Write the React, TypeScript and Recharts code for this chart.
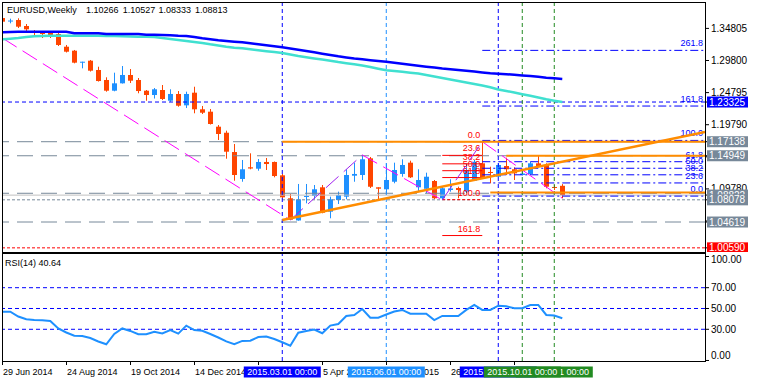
import React from 'react';
import { ComposedChart, Bar, Line, XAxis, YAxis, ReferenceLine } from 'recharts';

const FONT = '"Liberation Sans", Arial, sans-serif';
const BULL = '#1E90FF';
const BEAR = '#FF4500';
const ORANGE = '#FF8C00';
const GRAY = '#778899';
const BLUE = '#0000FF';
const GREEN = '#228B22';

// weekly candles, 29 Jun 2014 ...
const opens = [1.3642,1.3597,1.3611,1.3518,1.3440,1.3424,1.3409,1.3393,1.3195,1.3133,1.2952,1.2977,1.2832,1.2676,1.2509,1.2624,1.2754,1.2676,1.2509,1.2442,1.2520,1.2353,1.2458,1.2281,1.2478,1.2219,1.2182,1.1948,1.1854,1.1553,1.1133,1.1315,1.1293,1.1398,1.1398,1.1190,1.0832,1.0486,1.0860,1.0868,1.1003,1.0623,1.0805,1.0857,1.1184,1.1195,1.1455,1.1003,1.0972,1.1090,1.1211,1.1387,1.1003,1.0980,1.1101,1.0832,1.0961,1.0992,1.0935,1.1106,1.1377,1.1242,1.1168,1.1335,1.1284,1.1195,1.1211,1.1377,1.1351,1.1008,1.10266];
const highs = [1.3658,1.3632,1.3638,1.3549,1.3455,1.3440,1.3424,1.3409,1.3222,1.3144,1.2961,1.2988,1.2883,1.2718,1.2790,1.2894,1.2847,1.2707,1.2520,1.2551,1.2598,1.2531,1.2504,1.2494,1.2571,1.2271,1.2224,1.1974,1.1886,1.1678,1.1429,1.1533,1.1444,1.1460,1.1405,1.1211,1.0899,1.1055,1.1055,1.1039,1.1039,1.0857,1.0935,1.1284,1.1387,1.1507,1.1476,1.1003,1.1377,1.1387,1.1440,1.1418,1.1284,1.1231,1.1117,1.1023,1.1128,1.1013,1.1377,1.1429,1.1714,1.1324,1.1377,1.1465,1.1315,1.1273,1.1402,1.1491,1.1377,1.1039,1.10527];
const lows = [1.3564,1.3560,1.3487,1.3409,1.3366,1.3331,1.3331,1.3206,1.3105,1.2936,1.2858,1.2808,1.2652,1.2494,1.2500,1.2621,1.2629,1.2469,1.2353,1.2387,1.2364,1.2338,1.2260,1.2239,1.2157,1.2146,1.1982,1.1741,1.1449,1.1106,1.1090,1.1284,1.1262,1.1273,1.1159,1.0829,1.0494,1.0483,1.0754,1.0816,1.0598,1.0520,1.0743,1.0816,1.1090,1.1117,1.0992,1.0805,1.0910,1.1066,1.1168,1.1148,1.0935,1.0910,1.0821,1.0805,1.0935,1.0832,1.0910,1.1101,1.1133,1.1066,1.1164,1.1195,1.1117,1.1187,1.1195,1.1327,1.0988,1.0961,1.08333];
const closes = [1.3585,1.3603,1.3507,1.3466,1.3409,1.3393,1.3377,1.3222,1.3117,1.2946,1.2961,1.2821,1.2660,1.2509,1.2624,1.2754,1.2665,1.2504,1.2442,1.2531,1.2380,1.2458,1.2275,1.2458,1.2219,1.2166,1.1990,1.1834,1.1558,1.1195,1.1284,1.1296,1.1398,1.1366,1.1179,1.0847,1.0498,1.0816,1.0868,1.0972,1.0607,1.0816,1.0883,1.1195,1.1211,1.1440,1.1012,1.0981,1.1117,1.1273,1.1351,1.1159,1.1117,1.1168,1.0832,1.0988,1.0985,1.0961,1.1273,1.1402,1.1143,1.1226,1.1351,1.1284,1.1221,1.1218,1.1377,1.1335,1.1012,1.0992,1.08813];
const maSlow = [1.3420,1.3424,1.3429,1.3429,1.3429,1.3429,1.3429,1.3429,1.3429,1.3404,1.3404,1.3404,1.3404,1.3393,1.3393,1.3393,1.3393,1.3393,1.3382,1.3382,1.3377,1.3373,1.3366,1.3362,1.3346,1.3326,1.3310,1.3295,1.3284,1.3273,1.3264,1.3248,1.3232,1.3217,1.3201,1.3186,1.3167,1.3148,1.3128,1.3108,1.3086,1.3066,1.3045,1.3027,1.3011,1.2999,1.2985,1.2972,1.2961,1.2946,1.2930,1.2914,1.2899,1.2883,1.2869,1.2855,1.2844,1.2832,1.2819,1.2807,1.2794,1.2782,1.2774,1.2766,1.2757,1.2748,1.2738,1.2726,1.2712,1.2702,1.2692];
const maFast = [1.3310,1.3320,1.3331,1.3346,1.3357,1.3362,1.3366,1.3366,1.3366,1.3366,1.3366,1.3366,1.3366,1.3362,1.3362,1.3357,1.3354,1.3351,1.3351,1.3346,1.3331,1.3315,1.3299,1.3284,1.3268,1.3253,1.3232,1.3214,1.3195,1.3179,1.3170,1.3154,1.3139,1.3125,1.3112,1.3097,1.3073,1.3050,1.3030,1.3011,1.2994,1.2977,1.2956,1.2938,1.2921,1.2902,1.2879,1.2852,1.2827,1.2816,1.2804,1.2790,1.2776,1.2754,1.2730,1.2707,1.2684,1.2660,1.2637,1.2614,1.2590,1.2562,1.2528,1.2504,1.2481,1.2455,1.2430,1.2403,1.2375,1.2353,1.2333];
const rsiValues = [46.9,46.9,42.3,39.6,38.9,38.7,38.0,30.8,26.9,23.8,23.6,21.6,18.3,15.6,25.5,30.8,28.4,25.2,25.2,27.7,26.0,29.3,25.8,33.5,29.3,28.6,25.5,22.1,18.3,15.6,18.8,19.0,22.6,23.1,20.7,17.5,14.2,26.7,28.4,29.8,26.2,33.5,35.1,42.8,43.8,49.5,41.2,41.2,44.2,47.1,48.6,45.0,45.0,45.0,38.9,42.8,42.8,42.8,48.6,53.4,48.6,48.6,52.7,52.1,50.2,50.2,53.4,53.4,43.8,43.3,40.64];

// zigzag swing points
const zigzagBars = [0, 36, 45, 55, 60, 70];
const zigzagPrices = [1.3331, 1.0494, 1.1507, 1.0805, 1.1714, 1.0833];

// horizontal lines
const grayLongLevels = [1.17138, 1.14949, 1.0910, 1.04619];
const grayShortLevel = 1.08078;
const bidLevel = 1.08813;
const redLevel = 1.0059;
const blueLevel = 1.23325;

// orange objects
const orangeStarts = [35, 63, 61];
const orangeLevels = [1.17138, 1.14949, 1.0922];
const trendBars = [35, 87.84];
const trendPrices = [1.0494, 1.1865];

// fibo retracement (red)
const fiboRetNames = ['0.0', '23.6', '38.2', '50.0', '61.8', '100.0', '161.8'];
const fiboRetPrices = [1.1714, 1.1501, 1.1369, 1.1262, 1.1155, 1.0810, 1.0251];
const fiboRetBars = [55, 60];

// fibo expansion (blue)
const fiboExpNames = ['0.0', '23.6', '38.2', '50.0', '61.8', '100.0', '161.8', '261.8'];
const fiboExpPrices = [1.0866, 1.1071, 1.1198, 1.1300, 1.1402, 1.1734, 1.2270, 1.3138];
const fiboExpBars = [60, 87.84];

// vertical lines
const vlineBars = [35, 48, 62, 69, 65];
const vlineLabels = ['2015.03.01 00:00', '2015.06.01 00:00', '2015.09.01 00:00', '2015.11.01 00:00', '2015.10.01 00:00'];
const vlineColors = [BLUE, '#1E90FF', BLUE, GREEN, GREEN];

// axes
const tickBars = [0, 8, 16, 24, 32, 40, 48, 56, 64];
const tickLabels = ['29 Jun 2014', '24 Aug 2014', '19 Oct 2014', '14 Dec 2014', '8 Feb 2015', '5 Apr 2015', '31 May 2015', '26 Jul 2015', '20 Sep 2015'];
const priceTicks = [1.34805, 1.298, 1.24795, 1.1979, 1.14785, 1.0978, 1.04775];
const priceBoxes = [1.23325, 1.17138, 1.14949, 1.08822, 1.08078, 1.04619, 1.0059];
const priceBoxColors = [BLUE, GRAY, GRAY, GRAY, GRAY, GRAY, '#FF0000'];
const rsiTicks = [100, 70, 50, 30, 0];
const rsiLevels = [70, 50, 30];

const X_DOMAIN: [number, number] = [0.09, 87.84];

const rows = opens.map((o, i) => ({
  i, o, h: highs[i], l: lows[i], c: closes[i], mb: maSlow[i], mt: maFast[i], rsi: rsiValues[i],
}));

const Candle = (props: any) => {
  const { x, y, width, height, payload } = props;
  if (!payload || x == null || y == null) return null;
  const { o, h, l, c } = payload;
  const top = Math.min(y, y + height);
  const span = Math.abs(height);
  const yOf = (v: number) => top + ((h - v) / (h - l || 1)) * span;
  const cx = Math.round(x + (width || 0) / 2);
  const color = c >= o ? BULL : BEAR;
  const bTop = yOf(Math.max(o, c));
  const bBot = yOf(Math.min(o, c));
  return (
    <g>
      <rect x={cx} y={top} width={1} height={Math.max(1, span)} fill={color} />
      <rect x={cx - 2} y={bTop} width={5} height={Math.max(1, bBot - bTop)} fill={color} />
    </g>
  );
};

const PriceTick = (p: any) => {
  const idx = p.index;
  const v = p.payload.value;
  if (idx >= priceTicks.length) {
    const b = idx - priceTicks.length;
    return (
      <g>
        <rect x={p.x - 4} y={p.y - 5.5} width={41} height={11} fill={priceBoxColors[b]} />
        <text x={p.x - 2} y={p.y} dominantBaseline="central" fontSize={10} fontFamily={FONT} fill="#fff">{v.toFixed(5)}</text>
      </g>
    );
  }
  return <text x={p.x} y={p.y} dominantBaseline="central" fontSize={10} fontFamily={FONT} fill="#000">{v.toFixed(5)}</text>;
};

const RsiTick = (p: any) => {
  const v = p.payload.value;
  const dy = v === 100 ? 3.5 : v === 0 ? -4.8 : 0;
  return <text x={p.x} y={p.y + dy} dominantBaseline="central" fontSize={10} fontFamily={FONT} fill="#000">{v.toFixed(2)}</text>;
};

const TimeTick = (p: any) => {
  const idx = p.index;
  const { x, y } = p;
  if (idx >= tickBars.length) {
    const b = idx - tickBars.length;
    return (
      <g>
        <rect x={x - 38.5} y={y + 5.5} width={77} height={11} fill={vlineColors[b]} />
        <text x={x} y={y + 11} textAnchor="middle" dominantBaseline="central" fontSize={9} fontFamily={FONT} fill="#fff">{vlineLabels[b]}</text>
      </g>
    );
  }
  const lx = Math.round(x);
  return (
    <g>
      <rect x={lx} y={y} width={1} height={4} fill="#000" />
      <text x={lx + 1} y={y + 11} dominantBaseline="central" fontSize={9} fontFamily={FONT} fill="#000">{tickLabels[idx]}</text>
    </g>
  );
};

const endLabel = (text: string, color: string) => (p: any) => {
  const vb = p.viewBox || p;
  return (
    <text x={vb.x + vb.width - 2} y={vb.y - 4} textAnchor="end" fontSize={9} fontFamily={FONT} fill={color}>{text}</text>
  );
};

const timeTickValues = [...tickBars, ...vlineBars.map((b) => b + 0.001)];
const priceTickValues = [...priceTicks, ...priceBoxes];

export default function App() {
  return (
    <div style={{ position: 'absolute', left: 0, top: 0, width: 758, height: 382, background: '#fff', overflow: 'hidden' }}>
      <div style={{ position: 'absolute', left: 0, top: 0 }}>
        <ComposedChart width={758} height={252} data={rows} margin={{ top: 2, right: 0, bottom: 1, left: 3 }}>
          <XAxis type="number" dataKey="i" domain={X_DOMAIN} hide allowDataOverflow />
          <YAxis
            orientation="right"
            width={53}
            type="number"
            domain={[1.001, 1.3892]}
            allowDataOverflow
            ticks={priceTickValues}
            interval={0}
            tickSize={4}
            tickMargin={2}
            tickLine={{ stroke: '#000' }}
            axisLine={false}
            tick={PriceTick}
          />
          {grayLongLevels.map((v, k) => (
            <ReferenceLine key={'g' + k} y={v} stroke={GRAY} strokeDasharray="16 8" strokeWidth={1} />
          ))}
          <ReferenceLine y={grayShortLevel} stroke={GRAY} strokeDasharray="3 2" />
          <ReferenceLine y={bidLevel} stroke="#C0C0C0" />
          <ReferenceLine y={redLevel} stroke="#FF0000" strokeDasharray="3 2" />
          <ReferenceLine y={blueLevel} stroke={BLUE} strokeDasharray="4 3" />
          {vlineBars.map((b, k) => (
            <ReferenceLine key={'v' + k} x={b} stroke={vlineColors[k]} strokeDasharray="4 3" />
          ))}
          {fiboExpPrices.map((v, k) => (
            <ReferenceLine
              key={'fe' + k}
              segment={[{ x: fiboExpBars[0], y: v }, { x: fiboExpBars[1], y: v }]}
              stroke={BLUE}
              strokeDasharray="8 3 2 3"
              ifOverflow="hidden"
              label={endLabel(fiboExpNames[k], BLUE)}
            />
          ))}
          {fiboRetPrices.map((v, k) => (
            <ReferenceLine
              key={'fr' + k}
              segment={[{ x: fiboRetBars[0], y: v }, { x: fiboRetBars[1], y: v }]}
              stroke="#FF0000"
              strokeDasharray={fiboRetNames[k] === '100.0' ? '3 2' : undefined}
              ifOverflow="hidden"
              label={endLabel(fiboRetNames[k], '#FF0000')}
            />
          ))}
          {zigzagBars.slice(1).map((b, k) => (
            <ReferenceLine
              key={'z' + k}
              segment={[{ x: zigzagBars[k], y: zigzagPrices[k] }, { x: b, y: zigzagPrices[k + 1] }]}
              stroke={zigzagPrices[k + 1] < zigzagPrices[k] ? '#FF00FF' : '#A020F0'}
              strokeDasharray="17 7"
              ifOverflow="hidden"
            />
          ))}
          <Bar dataKey={(d: any) => [d.l, d.h]} shape={Candle} barSize={5} isAnimationActive={false} />
          <Line type="linear" dataKey="mt" stroke="#40E0D0" strokeWidth={2.5} dot={false} isAnimationActive={false} />
          <Line type="linear" dataKey="mb" stroke={BLUE} strokeWidth={2.5} dot={false} isAnimationActive={false} />
          {orangeLevels.map((v, k) => (
            <ReferenceLine
              key={'o' + k}
              segment={[{ x: orangeStarts[k], y: v }, { x: X_DOMAIN[1], y: v }]}
              stroke={ORANGE}
              strokeWidth={2}
              ifOverflow="hidden"
            />
          ))}
          <ReferenceLine
            segment={[{ x: trendBars[0], y: trendPrices[0] }, { x: trendBars[1], y: trendPrices[1] }]}
            stroke={ORANGE}
            strokeWidth={2.5}
            ifOverflow="hidden"
          />
        </ComposedChart>
      </div>
      <div style={{ position: 'absolute', left: 0, top: 253 }}>
        <ComposedChart width={758} height={129} data={rows} margin={{ top: 1, right: 0, bottom: 0, left: 3 }}>
          <XAxis
            type="number"
            dataKey="i"
            domain={X_DOMAIN}
            allowDataOverflow
            height={21}
            ticks={timeTickValues}
            interval={0}
            tickSize={0}
            tickMargin={0}
            tickLine={false}
            axisLine={false}
            tick={TimeTick}
          />
          <YAxis
            orientation="right"
            width={53}
            type="number"
            domain={[-0.5, 102.4]}
            allowDataOverflow
            ticks={rsiTicks}
            interval={0}
            tickSize={4}
            tickMargin={2}
            tickLine={{ stroke: '#000' }}
            axisLine={false}
            tick={RsiTick}
          />
          {rsiLevels.map((v, k) => (
            <ReferenceLine key={'r' + k} y={v} stroke={BLUE} strokeDasharray="4 3" />
          ))}
          {vlineBars.map((b, k) => (
            <ReferenceLine key={'rv' + k} x={b} stroke={vlineColors[k]} strokeDasharray="4 3" />
          ))}
          <Line type="linear" dataKey="rsi" stroke="#1E90FF" strokeWidth={2} dot={false} isAnimationActive={false} />
        </ComposedChart>
      </div>
      <svg width={758} height={382} style={{ position: 'absolute', left: 0, top: 0, pointerEvents: 'none' }}>
        <rect x={2.5} y={2.5} width={703} height={250} fill="none" stroke="#000" strokeWidth={1} />
        <rect x={2.5} y={253.5} width={703} height={108} fill="none" stroke="#000" strokeWidth={1} />
        <text x={7} y={12.5} fontSize={9} fontFamily={FONT} fill="#000">EURUSD,Weekly</text>
        <text x={86} y={12.5} fontSize={9} fontFamily={FONT} fill="#000">1.10266</text>
        <text x={122.7} y={12.5} fontSize={9} fontFamily={FONT} fill="#000">1.10527</text>
        <text x={158.5} y={12.5} fontSize={9} fontFamily={FONT} fill="#000">1.08333</text>
        <text x={195} y={12.5} fontSize={9} fontFamily={FONT} fill="#000">1.08813</text>
        <text x={5} y={266} fontSize={9} fontFamily={FONT} fill="#000">RSI(14) 40.64</text>
      </svg>
    </div>
  );
}
